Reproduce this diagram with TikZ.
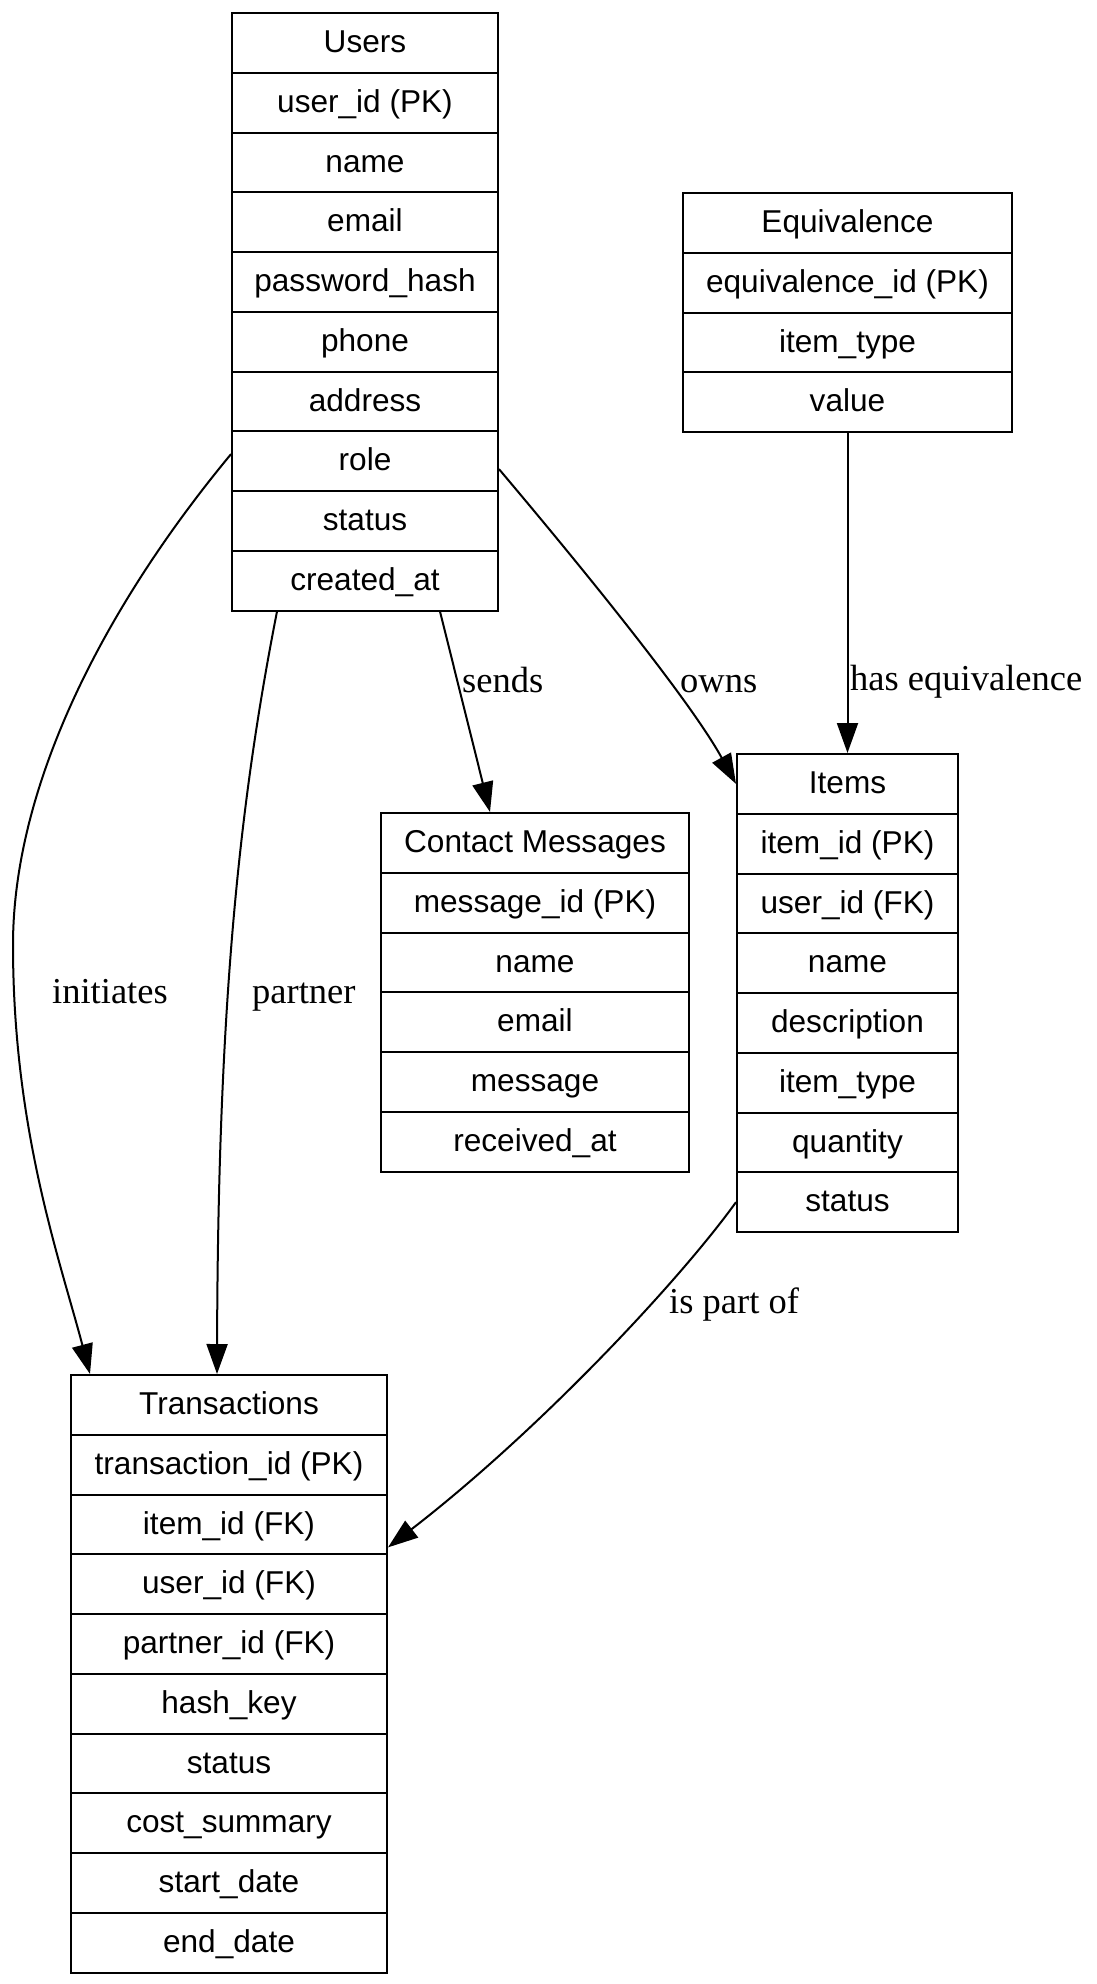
\documentclass[tikz,border=0pt]{standalone}
\usepackage{fontspec}
\setmainfont{Liberation Sans}
\newfontfamily\lblfont{Liberation Serif}
\usetikzlibrary{arrows.meta}
\newcommand\ertable[5]{%
  \foreach \txt [count=\k from 0] in {#5} {
    \node[cell, minimum width=#4] (#1\k) at (#2, {#3+59.75*\k}) {\txt};
  }%
}
\begin{document}
\begin{tikzpicture}[x=1pt, y=-1pt,
  cell/.style={draw, line width=2pt, anchor=north, minimum height=59.75pt, inner sep=0pt,
    text height=26pt, text depth=6.3pt, font=\fontsize{31.6}{38}\selectfont},
  lbl/.style={anchor=base west, inner sep=0pt, font=\lblfont\fontsize{36.5}{44}\selectfont},
  edge/.style={line width=2pt, -{Triangle[length=30pt, width=21pt]}}]
\useasboundingbox (0,0) rectangle (1096,1984);

\ertable{users}{365}{12}{266pt}{Users, user\_id (PK), name, email, password\_hash, phone, address, role, status, created\_at}
\ertable{equiv}{847.5}{192}{329pt}{Equivalence, equivalence\_id (PK), item\_type, value}
\ertable{items}{847.5}{753}{221pt}{Items, item\_id (PK), user\_id (FK), name, description, item\_type, quantity, status}
\ertable{contact}{535}{812}{308pt}{Contact Messages, message\_id (PK), name, email, message, received\_at}
\ertable{trans}{229}{1374}{316pt}{Transactions, transaction\_id (PK), item\_id (FK), user\_id (FK), partner\_id (FK), hash\_key, status, cost\_summary, start\_date, end\_date}

% edges
\draw[edge] ([yshift=-8pt]users7.east) .. controls (580,565) and (690,700) .. (items0.west);
\draw[edge] ([xshift=75pt]users9.south) -- ([xshift=-45pt]contact0.north);
\draw[edge] (equiv3.south) -- (items0.north);
\draw[edge] ([yshift=7pt]users7.west) .. controls (110,600) and (13,780) .. (13,945)
  .. controls (13,1130) and (60,1260) .. ([xshift=20pt]trans0.north west);
\draw[edge] ([xshift=46pt]users9.south west) .. controls (240,800) and (218,1000) .. ([xshift=147pt]trans0.north west);
\draw[edge] (items7.west) .. controls (680,1280) and (540,1430) .. ([yshift=-23pt]trans2.east);

% labels
\node[lbl] (lsends) at (462,692) {sends};
\node[lbl] (lowns) at (680,692) {owns};
\node[lbl] (lequiv) at (850,690) {has equivalence};
\node[lbl] (linit) at (52,1003) {initiates};
\node[lbl] (lpartner) at (252,1003) {partner};
\node[lbl] (lpart) at (669,1313) {is part of};
\end{tikzpicture}
\end{document}
